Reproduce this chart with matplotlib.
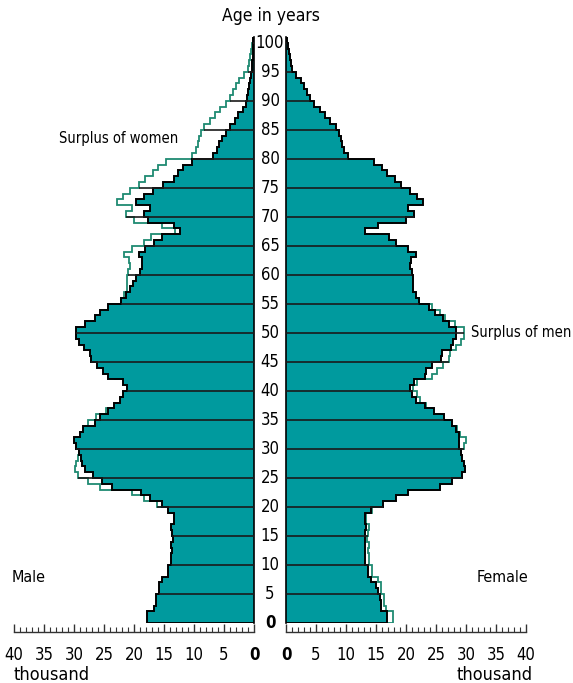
import numpy as np
import matplotlib
matplotlib.use('Agg')
import matplotlib.pyplot as plt
from matplotlib.transforms import blended_transform_factory

plt.rcParams['font.family'] = ['DejaVu Sans']
plt.rcParams['font.stretch'] = 'condensed'

# population by single year of age (0..100), in thousand
ages = np.arange(0, 101)

male = [17.9, 17.8, 16.7, 16.4, 16.3, 15.9, 15.9, 15.4, 14.3, 14.3,
        13.9, 13.8, 13.7, 13.8, 13.5, 13.6, 13.8, 13.4, 13.4, 14.3,
        15.4, 17.4, 18.9, 23.6, 25.3, 26.9, 28.1, 28.7, 28.9, 29.1,
        29.7, 30.0, 29.0, 28.5, 26.5, 25.6, 24.4, 23.3, 22.4, 21.8,
        21.1, 21.8, 24.3, 25.1, 26.1, 27.2, 27.3, 28.4, 29.2, 29.7,
        29.6, 28.1, 26.5, 25.7, 24.4, 22.1, 21.3, 20.6, 20.2, 19.6,
        19.0, 18.6, 18.7, 19.2, 18.2, 16.6, 15.4, 12.3, 13.4, 17.6,
        18.4, 17.3, 19.7, 18.4, 16.8, 15.1, 13.4, 12.6, 11.8, 10.4,
        6.8, 6.2, 5.9, 5.4, 4.7, 4.0, 3.2, 2.6, 1.9, 1.4,
        1.2, 1.0, 0.8, 0.6, 0.5, 0.4, 0.3, 0.2, 0.2, 0.1,
        0.1]

female = [16.8, 16.8, 15.9, 15.8, 15.7, 15.3, 15.0, 14.1, 13.6, 13.7,
          13.2, 13.1, 13.2, 13.2, 13.1, 13.2, 13.3, 13.2, 13.1, 14.2,
          16.2, 18.3, 20.3, 25.6, 27.6, 29.3, 29.8, 29.7, 29.4, 29.1,
          28.9, 28.9, 28.8, 28.4, 27.6, 26.4, 24.7, 23.1, 21.6, 21.0,
          20.6, 21.3, 23.2, 23.4, 24.4, 25.8, 26.0, 27.5, 27.9, 28.4,
          28.4, 27.2, 26.1, 24.8, 23.9, 22.1, 21.6, 21.2, 21.2, 21.1,
          21.0, 20.7, 20.8, 21.7, 20.3, 18.3, 17.2, 13.2, 15.3, 20.0,
          21.3, 20.3, 22.8, 21.9, 20.6, 19.1, 18.1, 16.9, 16.0, 14.7,
          10.3, 9.6, 9.4, 9.2, 8.9, 8.4, 7.3, 6.5, 5.6, 4.6,
          4.0, 3.5, 3.0, 2.5, 1.7, 1.0, 0.8, 0.7, 0.5, 0.3,
          0.2]

xticks_major = [0, 5, 10, 15, 20, 25, 30, 35, 40]
age_ticks = list(range(0, 101, 5))

teal = '#009a9e'
green = '#1f8a72'
fs = 12

W, H = 573, 683
fig = plt.figure(figsize=(W / 100, H / 100), dpi=100)
bot = (H - 623) / H
hgt = 586 / H
ax_m = fig.add_axes([14 / W, bot, 240 / W, hgt])
ax_f = fig.add_axes([286 / W, bot, 240 / W, hgt])

edges = np.arange(0, 102)
both = np.maximum(male, female)

for ax, own, other, side in [(ax_m, male, female, 'right'), (ax_f, female, male, 'left')]:
    # other sex outline (surplus), hidden under the fill where smaller
    ax.stairs(other, edges, orientation='horizontal', baseline=0, fill=False,
              color=green, lw=1.3, zorder=1)
    ax.stairs(own, edges, orientation='horizontal', baseline=0, fill=True,
              color=teal, lw=0, zorder=2)
    ax.stairs(own, edges, orientation='horizontal', baseline=0, fill=False,
              color='black', lw=1.4, zorder=3)
    for a in age_ticks[1:]:
        ax.plot([0, both[a]], [a, a], color='#1a1a1a', lw=1.2, zorder=4,
                solid_capstyle='butt')

    ax.set_ylim(0, 101)
    ax.set_yticks([])
    for s in ['top', 'left', 'right']:
        ax.spines[s].set_visible(False)
    ax.spines[side].set_visible(True)
    ax.spines[side].set_bounds(0, 101)
    ax.spines[side].set_linewidth(1.2)
    ax.spines['bottom'].set_position(('data', -1.6))
    ax.spines['bottom'].set_linewidth(1.0)
    ax.spines['bottom'].set_color('#333333')
    ax.set_xticks(xticks_major)
    ax.set_xticks(np.arange(0, 41, 1), minor=True)
    ax.tick_params(axis='x', which='major', direction='in', length=6, width=1,
                   labelsize=fs, pad=10, color='#333333')
    ax.tick_params(axis='x', which='minor', direction='in', length=3.5, width=0.8,
                   color='#333333')
    ax.patch.set_visible(False)

ax_m.set_xlim(40, 0)
ax_f.set_xlim(0, 40)

for ax in (ax_m, ax_f):
    ax.set_xticklabels([str(t) for t in xticks_major])
    for lab in ax.get_xticklabels():
        if lab.get_text() == '0':
            lab.set_fontweight('bold')

# age labels in the gap between the two halves
tr = blended_transform_factory(fig.transFigure, ax_m.transData)
for a in age_ticks:
    ax_m.text(270 / W, a, str(a), transform=tr, ha='center', va='center',
              fontsize=fs, fontweight='bold' if a == 0 else 'normal',
              clip_on=False)

fig.text(271 / W, (H - 16) / H, 'Age in years', ha='center', va='center', fontsize=12.5)
fig.text(178 / W, (H - 138) / H, 'Surplus of women', ha='right', va='center', fontsize=10.5)
fig.text(571 / W, (H - 332) / H, 'Surplus of men', ha='right', va='center', fontsize=10.5)
fig.text(12 / W, (H - 578) / H, 'Male', ha='left', va='center', fontsize=11.5)
fig.text(528 / W, (H - 577) / H, 'Female', ha='right', va='center', fontsize=11.5)
fig.text(14 / W, (H - 675) / H, 'thousand', ha='left', va='center', fontsize=13)
fig.text(533 / W, (H - 675) / H, 'thousand', ha='right', va='center', fontsize=13)

fig.savefig('out.png', dpi=100)
